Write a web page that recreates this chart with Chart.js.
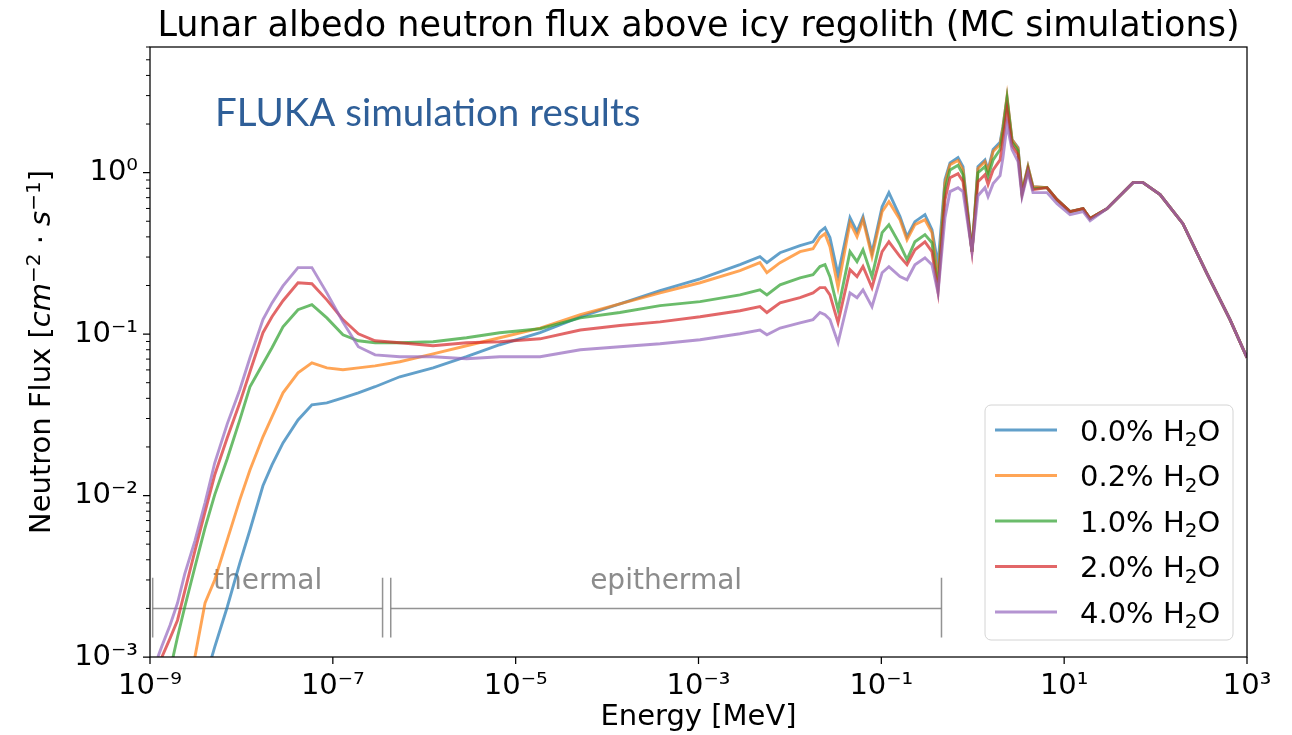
<!DOCTYPE html>
<html>
<head>
<meta charset="utf-8">
<script src="https://cdn.jsdelivr.net/npm/chart.js@4.4.1/dist/chart.umd.min.js"></script>
<style>
  html, body { margin: 0; padding: 0; background: #fff; }
</style>
</head>
<body>
<canvas id="flux" width="1292" height="735"></canvas>
<script>
// energy grid [MeV], shared by all five spectra
const energy = [
  1.22e-9, 1.35e-9, 1.66e-9, 2.0e-9, 2.4e-9, 3.1e-9, 4.0e-9, 5.1e-9, 7.0e-9, 9.6e-9,
  1.24e-8, 1.72e-8, 2.16e-8, 2.85e-8, 4.16e-8, 5.9e-8, 8.6e-8, 1.29e-7, 1.9e-7, 2.9e-7,
  5.4e-7, 1.25e-6, 2.9e-6, 6.7e-6, 1.85e-5, 5.1e-5, 1.38e-4, 3.8e-4, 1.04e-3, 2.84e-3,
  4.7e-3, 5.6e-3, 7.8e-3, 0.0129, 0.0179, 0.0213, 0.0242, 0.0274, 0.0336, 0.0454,
  0.0542, 0.063, 0.079, 0.102, 0.121, 0.160, 0.191, 0.233, 0.300, 0.358,
  0.417, 0.497, 0.564, 0.690, 0.782, 0.981, 1.14, 1.36, 1.47, 1.67,
  1.99, 2.14, 2.37, 2.69, 3.13, 3.46, 4.02, 4.56, 6.49, 8.35,
  11.6, 16.1, 19.2, 29.4, 56.6, 72.9, 112, 199, 365, 652, 1000
];

// flux [cm^-2 s^-1] for each water content
const flux00 = [
  7.7e-5, 9.4e-5, 1.36e-4, 2.0e-4, 2.8e-4, 4.5e-4, 7.2e-4, 1.15e-3, 2.04e-3, 3.82e-3,
  6.12e-3, 0.0115, 0.0155, 0.0212, 0.0294, 0.0365, 0.0375, 0.0403, 0.0433, 0.0472,
  0.0544, 0.0618, 0.0724, 0.0859, 0.102, 0.128, 0.154, 0.186, 0.220, 0.269,
  0.302, 0.277, 0.319, 0.353, 0.373, 0.431, 0.456, 0.396, 0.233, 0.526,
  0.431, 0.534, 0.319, 0.616, 0.752, 0.534, 0.401, 0.497, 0.549, 0.443,
  0.269, 0.905, 1.15, 1.24, 1.09, 0.324, 1.09, 1.20, 1.04, 1.39,
  1.54, 1.93, 2.92, 1.60, 1.43, 0.763, 1.09, 0.819, 0.807, 0.680,
  0.573, 0.598, 0.519, 0.598, 0.867, 0.867, 0.731, 0.483, 0.237, 0.123, 0.0714
];
const flux02 = [
  6.4e-5, 8.5e-5, 1.5e-4, 2.7e-4, 4.5e-4, 1.0e-3, 2.16e-3, 3.0e-3, 5.31e-3, 9.4e-3,
  0.0144, 0.0231, 0.0307, 0.0433, 0.0576, 0.0664, 0.0618, 0.0601, 0.0618, 0.0636,
  0.0674, 0.0755, 0.0847, 0.0949, 0.109, 0.132, 0.154, 0.180, 0.208, 0.247,
  0.277, 0.240, 0.277, 0.324, 0.338, 0.396, 0.419, 0.348, 0.194, 0.490,
  0.401, 0.511, 0.302, 0.573, 0.661, 0.511, 0.384, 0.476, 0.511, 0.425,
  0.217, 0.867, 1.12, 1.19, 1.04, 0.324, 1.06, 1.17, 1.01, 1.35,
  1.49, 1.90, 2.96, 1.60, 1.41, 0.763, 1.09, 0.819, 0.807, 0.680,
  0.573, 0.598, 0.519, 0.598, 0.867, 0.867, 0.731, 0.483, 0.237, 0.123, 0.0714
];
const flux10 = [
  4.1e-4, 5.2e-4, 8.3e-4, 1.33e-3, 2.04e-3, 3.61e-3, 6.3e-3, 0.0101, 0.0169, 0.0294,
  0.0472, 0.0655, 0.0823, 0.111, 0.1415, 0.152, 0.126, 0.099, 0.0909, 0.0884,
  0.0884, 0.0896, 0.0949, 0.102, 0.108, 0.126, 0.136, 0.150, 0.159, 0.175,
  0.188, 0.175, 0.202, 0.223, 0.233, 0.262, 0.269, 0.227, 0.1415, 0.324,
  0.281, 0.333, 0.227, 0.425, 0.476, 0.358, 0.289, 0.373, 0.413, 0.368,
  0.197, 0.785, 1.04, 1.11, 0.972, 0.324, 1.0, 1.09, 0.944, 1.20,
  1.39, 1.80, 2.84, 1.54, 1.37, 0.741, 1.06, 0.796, 0.807, 0.680,
  0.573, 0.598, 0.519, 0.598, 0.867, 0.867, 0.731, 0.483, 0.237, 0.123, 0.0714
];
const flux20 = [
  8.3e-4, 1.0e-3, 1.31e-3, 1.69e-3, 2.56e-3, 4.54e-3, 7.92e-3, 0.0134, 0.0228, 0.0375,
  0.0584, 0.102, 0.128, 0.161, 0.208, 0.205, 0.163, 0.123, 0.1005, 0.0909,
  0.0884, 0.0847, 0.0884, 0.0896, 0.0935, 0.106, 0.113, 0.119, 0.128, 0.1395,
  0.148, 0.136, 0.156, 0.168, 0.180, 0.194, 0.194, 0.175, 0.1175, 0.2505,
  0.227, 0.262, 0.194, 0.324, 0.373, 0.302, 0.269, 0.333, 0.373, 0.324,
  0.183, 0.680, 0.931, 0.986, 0.880, 0.324, 0.880, 0.972, 0.843, 1.04,
  1.20, 1.60, 2.46, 1.47, 1.29, 0.731, 1.04, 0.785, 0.807, 0.680,
  0.573, 0.598, 0.519, 0.598, 0.867, 0.867, 0.731, 0.483, 0.237, 0.123, 0.0714
];
const flux40 = [
  1.0e-3, 1.17e-3, 1.58e-3, 2.16e-3, 3.27e-3, 5.24e-3, 9.01e-3, 0.0159, 0.0278, 0.0452,
  0.0714, 0.123, 0.156, 0.199, 0.258, 0.258, 0.180, 0.119, 0.0835, 0.0744,
  0.0724, 0.0724, 0.0703, 0.0724, 0.0724, 0.080, 0.0835, 0.0871, 0.0922, 0.1005,
  0.106, 0.099, 0.109, 0.1175, 0.123, 0.136, 0.132, 0.123, 0.0884, 0.180,
  0.168, 0.188, 0.148, 0.240, 0.2615, 0.227, 0.217, 0.269, 0.297, 0.269,
  0.180, 0.526, 0.763, 0.807, 0.763, 0.324, 0.720, 0.807, 0.710, 0.855,
  0.958, 1.24, 1.98, 1.39, 1.17, 0.710, 1.0, 0.752, 0.752, 0.642,
  0.549, 0.573, 0.504, 0.598, 0.867, 0.867, 0.731, 0.483, 0.237, 0.123, 0.0714
];

const seriesFlux = [flux00, flux02, flux10, flux20, flux40];
const seriesLabels = ['0.0% H₂O', '0.2% H₂O', '1.0% H₂O', '2.0% H₂O', '4.0% H₂O'];
const seriesColors = [
  'rgba(31, 119, 180, 0.7)',
  'rgba(255, 127, 14, 0.7)',
  'rgba(44, 160, 44, 0.7)',
  'rgba(214, 39, 40, 0.7)',
  'rgba(148, 103, 189, 0.7)'
];

const xTickExponents = [-9, -7, -5, -3, -1, 1, 3];
const yTickExponents = [-3, -2, -1, 0];

// energy bands marked under the curves
const regionNames = ['thermal', 'epithermal'];
const regionStart = [1.07e-9, 4.3e-7];
const regionEnd = [3.5e-7, 0.455];
const regionLevel = 2e-3;
const capTop = 3.1e-3;
const capBottom = 1.32e-3;

const FONT = 'DejaVu Sans';
const SUP = { '-': '⁻', '0': '⁰', '1': '¹', '2': '²', '3': '³', '4': '⁴', '5': '⁵', '6': '⁶', '7': '⁷', '8': '⁸', '9': '⁹' };

function powerLabel(v) {
  const e = String(Math.round(Math.log10(v)));
  return '10' + e.split('').map(c => SUP[c]).join('');
}

const datasets = seriesFlux.map((flux, i) => ({
  label: seriesLabels[i],
  data: energy.map((e, j) => ({ x: e, y: flux[j] })),
  borderColor: seriesColors[i],
  borderWidth: 2.9,
  pointRadius: 0,
  tension: 0,
  order: seriesFlux.length - i
}));

const bandGrey = 'rgba(128, 128, 128, 0.85)';
regionNames.forEach((name, i) => {
  const segs = [
    [{ x: regionStart[i], y: regionLevel }, { x: regionEnd[i], y: regionLevel }],
    [{ x: regionStart[i], y: capTop }, { x: regionStart[i], y: capBottom }],
    [{ x: regionEnd[i], y: capTop }, { x: regionEnd[i], y: capBottom }]
  ];
  segs.forEach(seg => datasets.push({
    label: name,
    data: seg,
    borderColor: bandGrey,
    borderWidth: 1.5,
    pointRadius: 0,
    order: 10
  }));
});

// draws a run of [text, style] pieces starting at x; style: 'n' normal, 'i' italic, 'sup', 'sub'
function drawRuns(ctx, runs, x, y, size) {
  const fontFor = s => {
    if (s === 'i') return 'italic ' + size + 'px "' + FONT + '"';
    if (s === 'sup' || s === 'sub') return Math.round(size * 0.7) + 'px "' + FONT + '"';
    return size + 'px "' + FONT + '"';
  };
  runs.forEach(([t, s]) => {
    ctx.font = fontFor(s);
    const dy = s === 'sup' ? -size * 0.36 : s === 'sub' ? size * 0.2 : 0;
    ctx.fillText(t, x, y + dy);
    x += ctx.measureText(t).width;
  });
  return x;
}

function runsWidth(ctx, runs, size) {
  const c = ctx;
  c.save();
  const w = drawRuns({ fillText() {}, measureText: t => c.measureText(t), set font(f) { c.font = f; } }, runs, 0, 0, size);
  c.restore();
  return w;
}

const yTitleRuns = [
  ['Neutron Flux [', 'n'], ['cm', 'i'], ['−2', 'sup'], [' · ', 'n'], ['s', 'i'], ['−1', 'sup'], [']', 'n']
];

// band names, the simulation note and the y title, under the curves
const textLayer = {
  id: 'textLayer',
  beforeDatasetsDraw(chart) {
    const { ctx, chartArea: a, scales: { x, y } } = chart;
    ctx.save();
    ctx.font = '28px "' + FONT + '"';
    ctx.fillStyle = 'rgba(128, 128, 128, 0.9)';
    ctx.textAlign = 'center';
    ctx.textBaseline = 'alphabetic';
    regionNames.forEach((name, i) => {
      const mid = Math.sqrt(regionStart[i] * regionEnd[i]);
      ctx.fillText(name, x.getPixelForValue(mid), y.getPixelForValue(regionLevel) - 19);
    });
    ctx.font = '38.5px Lato';
    ctx.fillStyle = '#2f5f98';
    ctx.textAlign = 'left';
    ctx.fillText('FLUKA simulation results', a.left + 65, a.top + 79);

    ctx.fillStyle = '#000';
    const w = runsWidth(ctx, yTitleRuns, 29);
    ctx.translate(50, (a.top + a.bottom) / 2);
    ctx.rotate(-Math.PI / 2);
    drawRuns(ctx, yTitleRuns, -w / 2, 0, 29);
    ctx.restore();
  }
};

const boxLegend = {
  id: 'boxLegend',
  afterDatasetsDraw(chart) {
    const { ctx, chartArea: a } = chart;
    const w = 248, h = 235, rowH = 45.5;
    const left = a.right - 14 - w;
    const top = a.bottom - 17 - h;
    ctx.save();
    ctx.beginPath();
    ctx.roundRect(left, top, w, h, 6);
    ctx.fillStyle = 'rgba(255, 255, 255, 0.8)';
    ctx.fill();
    ctx.strokeStyle = '#d4d4d4';
    ctx.lineWidth = 1;
    ctx.stroke();
    ctx.textBaseline = 'alphabetic';
    ctx.textAlign = 'left';
    seriesLabels.forEach((label, i) => {
      const cy = top + 25 + i * rowH;
      ctx.strokeStyle = seriesColors[i];
      ctx.lineWidth = 2.9;
      ctx.beginPath();
      ctx.moveTo(left + 10, cy);
      ctx.lineTo(left + 72, cy);
      ctx.stroke();
      ctx.fillStyle = '#000';
      const [head, tail] = label.split('₂');
      drawRuns(ctx, [[head, 'n'], ['2', 'sub'], [tail, 'n']], left + 95, cy + 10.5, 29);
    });
    ctx.restore();
  }
};

// frame, tick marks and title
const frame = {
  id: 'frame',
  afterDraw(chart) {
    const { ctx, chartArea: a, scales: { x, y } } = chart;
    ctx.save();
    ctx.strokeStyle = '#000';
    ctx.lineWidth = 1.25;
    ctx.strokeRect(a.left, a.top, a.right - a.left, a.bottom - a.top);
    ctx.beginPath();
    xTickExponents.forEach(e => {
      const px = x.getPixelForValue(10 ** e);
      ctx.moveTo(px, a.bottom);
      ctx.lineTo(px, a.bottom + 7);
    });
    yTickExponents.forEach(e => {
      const py = y.getPixelForValue(10 ** e);
      ctx.moveTo(a.left - 7, py);
      ctx.lineTo(a.left, py);
    });
    ctx.stroke();
    ctx.lineWidth = 1;
    ctx.beginPath();
    yTickExponents.forEach(e => {
      for (let m = 2; m <= 9; m++) {
        const v = m * 10 ** e;
        if (v > y.max) break;
        const py = y.getPixelForValue(v);
        ctx.moveTo(a.left - 4, py);
        ctx.lineTo(a.left, py);
      }
    });
    ctx.stroke();
    ctx.font = '35px "' + FONT + '"';
    ctx.fillStyle = '#000';
    ctx.textAlign = 'center';
    ctx.textBaseline = 'alphabetic';
    ctx.fillText('Lunar albedo neutron flux above icy regolith (MC simulations)', (a.left + a.right) / 2, 36);
    ctx.restore();
  }
};

const axisFont = { family: FONT, size: 29 };

new Chart(document.getElementById('flux').getContext('2d'), {
  type: 'line',
  data: { datasets: datasets },
  options: {
    responsive: false,
    animation: false,
    devicePixelRatio: 1,
    layout: { padding: { top: 47, right: 45, left: 0, bottom: 0 } },
    plugins: {
      legend: { display: false },
      tooltip: { enabled: false },
      title: { display: false }
    },
    scales: {
      x: {
        type: 'logarithmic',
        min: 1e-9,
        max: 1e3,
        afterBuildTicks: s => { s.ticks = xTickExponents.map(e => ({ value: 10 ** e })); },
        afterFit: s => { s.height = 78; },
        grid: { display: false, drawTicks: false },
        border: { display: false },
        ticks: {
          font: axisFont,
          color: '#000',
          padding: 12,
          maxRotation: 0,
          autoSkip: false,
          callback: v => powerLabel(v)
        },
        title: {
          display: true,
          text: 'Energy [MeV]',
          font: axisFont,
          color: '#000',
          padding: { top: 0, bottom: 0 }
        }
      },
      y: {
        type: 'logarithmic',
        min: 1e-3,
        max: 6,
        afterBuildTicks: s => { s.ticks = yTickExponents.map(e => ({ value: 10 ** e })); },
        afterFit: s => { s.width = 150; },
        grid: { display: false, drawTicks: false },
        border: { display: false },
        ticks: {
          font: axisFont,
          color: '#000',
          padding: 12,
          autoSkip: false,
          callback: v => powerLabel(v)
        },
        title: { display: false }
      }
    }
  },
  plugins: [textLayer, boxLegend, frame]
});
</script>
</body>
</html>
